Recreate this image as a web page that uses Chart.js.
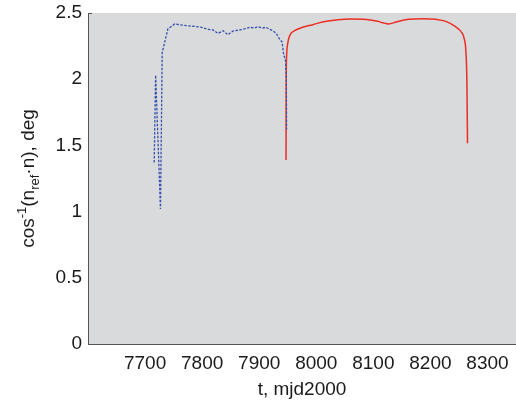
<!DOCTYPE html>
<html>
<head>
<meta charset="utf-8">
<script src="https://cdn.jsdelivr.net/npm/chart.js@4.4.1/dist/chart.umd.min.js"></script>
<style>
  html, body { margin: 0; padding: 0; background: #fff; }
  #wrap { width: 516px; height: 402px; }
</style>
</head>
<body>
<div id="wrap"><canvas id="grafica"></canvas></div>
<script>
// Angulo entre n_ref y n frente al tiempo (mjd2000)

var tAzul = [7716, 7718.5, 7727, 7730, 7740, 7752, 7767, 7784, 7799, 7810,
    7819, 7828, 7837, 7845, 7854, 7866, 7877, 7883, 7892, 7898, 7906, 7912,
    7918, 7924, 7930, 7936, 7940, 7943, 7946, 7947.5, 7948];
var vAzul = [1.37, 2.03, 1.02, 2.20, 2.38, 2.417, 2.407, 2.40, 2.392, 2.377,
    2.372, 2.346, 2.366, 2.336, 2.364, 2.372, 2.382, 2.392, 2.387, 2.397, 2.387,
    2.392, 2.377, 2.366, 2.346, 2.30, 2.283, 2.183, 2.145, 1.99, 1.62];

var tRojo = [7947, 7947.3, 7948, 7950, 7954, 7962, 7976, 7994, 8011, 8035,
    8058, 8081, 8105, 8116, 8127, 8140, 8163, 8186, 8210, 8227, 8244, 8255,
    8259, 8262, 8264, 8265];
var vRojo = [1.39, 1.97, 2.17, 2.27, 2.334, 2.366, 2.392, 2.412, 2.432, 2.447,
    2.455, 2.452, 2.44, 2.427, 2.417, 2.432, 2.452, 2.457, 2.452, 2.437, 2.397,
    2.352, 2.31, 2.22, 1.97, 1.516];

var xTicks = [7700, 7800, 7900, 8000, 8100, 8200, 8300];
var yTicks = [0, 0.5, 1, 1.5, 2, 2.5];

var fuente = '"Liberation Sans", Arial, Helvetica, sans-serif';

function puntos(ts, vs) {
    var res = [];
    for (var i = 0; i < ts.length; i++) {
        res.push({ x: ts[i], y: vs[i] });
    }
    return res;
}

// Fondo gris del area de la grafica y titulos de los ejes
var plugFondo = {
    id: 'fondo',
    beforeDraw: function (chart) {
        var a = chart.chartArea, ctx = chart.ctx;
        ctx.save();
        ctx.fillStyle = 'rgb(216, 218, 220)';
        ctx.fillRect(a.left, a.top, a.right - a.left, a.bottom - a.top);
        ctx.restore();
    },
    afterDraw: function (chart) {
        var a = chart.chartArea, ctx = chart.ctx;
        ctx.save();
        // pequeña marca en 2.5, como en el original
        ctx.strokeStyle = 'rgb(85, 85, 85)';
        ctx.lineWidth = 1;
        ctx.beginPath();
        ctx.moveTo(a.left, a.top + 0.5);
        ctx.lineTo(a.left + 4, a.top + 0.5);
        ctx.stroke();
        ctx.fillStyle = '#1a1a1a';
        ctx.textBaseline = 'alphabetic';
        // titulo eje x
        ctx.font = '19px ' + fuente;
        ctx.textAlign = 'center';
        ctx.fillText('t, mjd2000', (a.left + a.right) / 2, 395);
        // titulo eje y con super y subindices
        var trozos = [
            { t: 'cos', s: 19, dy: 0 },
            { t: '-1', s: 13, dy: -8 },
            { t: '(n', s: 19, dy: 0 },
            { t: 'ref', s: 13, dy: 5 },
            { t: '\u00b7n), deg', s: 19, dy: 0 }
        ];
        var total = 0;
        trozos.forEach(function (p) {
            ctx.font = p.s + 'px ' + fuente;
            p.w = ctx.measureText(p.t).width;
            total += p.w;
        });
        ctx.translate(34, (a.top + a.bottom) / 2);
        ctx.rotate(-Math.PI / 2);
        ctx.textAlign = 'left';
        var x = -total / 2;
        trozos.forEach(function (p) {
            ctx.font = p.s + 'px ' + fuente;
            ctx.fillText(p.t, x, p.dy);
            x += p.w;
        });
        ctx.restore();
    }
};

function etiqueta(v) { return String(v); }

var chart = new Chart(document.getElementById('grafica').getContext('2d'), {
    type: 'scatter',
    data: {
        datasets: [{
            data: puntos(tAzul, vAzul),
            showLine: true,
            borderColor: 'rgb(55, 80, 175)',
            borderWidth: 1.3,
            borderDash: [2.5, 1.5],
            pointRadius: 0,
            tension: 0
        }, {
            data: puntos(tRojo, vRojo),
            showLine: true,
            borderColor: 'rgb(236, 45, 35)',
            borderWidth: 1.5,
            pointRadius: 0,
            cubicInterpolationMode: 'monotone'
        }]
    },
    options: {
        responsive: true,
        maintainAspectRatio: false,
        animation: false,
        layout: { padding: { top: 13, right: 0, left: 0, bottom: 0 } },
        plugins: {
            legend: { display: false },
            tooltip: { enabled: false }
        },
        scales: {
            x: {
                type: 'linear',
                min: 7600,
                max: 8350,
                afterFit: function (s) {
                    s.height = 58;
                    s.paddingLeft = 0;
                    s.paddingRight = 0;
                },
                afterBuildTicks: function (s) {
                    s.ticks = xTicks.map(function (v) { return { value: v }; });
                },
                grid: { display: false, drawTicks: false },
                border: { display: true, color: 'rgb(85, 85, 85)', width: 1 },
                ticks: {
                    padding: 8,
                    color: '#1a1a1a',
                    font: { family: fuente, size: 19 },
                    maxRotation: 0,
                    callback: etiqueta
                }
            },
            y: {
                type: 'linear',
                min: 0,
                max: 2.5,
                afterFit: function (s) {
                    s.width = 88;
                    s.paddingTop = 0;
                    s.paddingBottom = 0;
                },
                afterBuildTicks: function (s) {
                    s.ticks = yTicks.map(function (v) { return { value: v }; });
                },
                grid: { display: false, drawTicks: false },
                border: { display: true, color: 'rgb(85, 85, 85)', width: 1 },
                ticks: {
                    padding: 6,
                    color: '#1a1a1a',
                    font: { family: fuente, size: 19 },
                    callback: etiqueta
                }
            }
        }
    },
    plugins: [plugFondo]
});
</script>
</body>
</html>
